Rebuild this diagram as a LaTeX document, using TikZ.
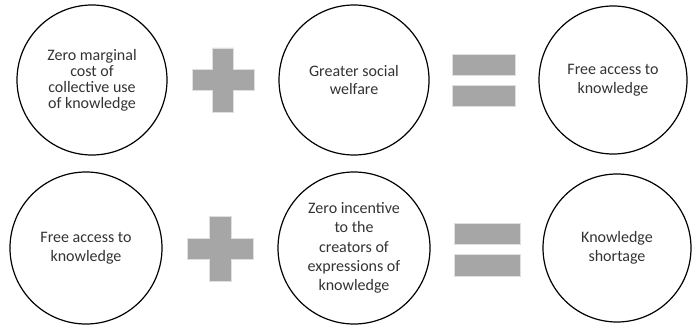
\documentclass[tikz,border=0pt]{standalone}
\usepackage{fontspec}
\setmainfont{Carlito}
\usetikzlibrary{positioning}

\begin{document}
\begin{tikzpicture}[x=1pt, y=-1pt,
    idea/.style={circle, draw, line width=1.2pt, minimum size=150pt, inner sep=0pt,
        align=center, text=black!80, font=\fontsize{16}{18.5}\selectfont},
    sign/.style={fill=gray!70, draw=gray!25, line width=0.6pt}]
    \useasboundingbox (0,0) rectangle (692,326);

    % Top row - zero marginal cost leads to free access
    \node[idea, font=\fontsize{16}{16}\selectfont] (margcost) at (92,80) {Zero marginal\\cost of\\collective use\\of knowledge};
    \node[idea] (welfare) at (354,80) {Greater social\\welfare};
    \node[idea, minimum size=148pt] (access) at (613,80) {Free access to\\knowledge};

    \begin{scope}[shift={(223,80)}]
        \filldraw[sign] (-10.5,-32) -- (10.5,-32) -- (10.5,-10.5) -- (31,-10.5) -- (31,10.5) -- (10.5,10.5)
            -- (10.5,32) -- (-10.5,32) -- (-10.5,10.5) -- (-31,10.5) -- (-31,-10.5) -- (-10.5,-10.5) -- cycle;
    \end{scope}
    \filldraw[sign] (452,54) rectangle (515,75);
    \filldraw[sign] (452,85) rectangle (515,106);

    % Bottom row - free access leads to shortage
    \node[idea, minimum size=152pt] (freeaccess) at (86,248) {Free access to\\knowledge};
    \node[idea, minimum size=152pt, font=\fontsize{16}{19.3}\selectfont] (incentive) at (354,248) {Zero incentive\\to the\\creators of\\expressions of\\knowledge};
    \node[idea, minimum size=148pt] (shortage) at (617,248) {Knowledge\\shortage};

    \begin{scope}[shift={(220,249)}]
        \filldraw[sign] (-11,-32.5) -- (11,-32.5) -- (11,-10.5) -- (33,-10.5) -- (33,10.5) -- (11,10.5)
            -- (11,32.5) -- (-11,32.5) -- (-11,10.5) -- (-33,10.5) -- (-33,-10.5) -- (-11,-10.5) -- cycle;
    \end{scope}
    \filldraw[sign] (454,223) rectangle (520,244);
    \filldraw[sign] (454,254) rectangle (520,276);
\end{tikzpicture}
\end{document}
